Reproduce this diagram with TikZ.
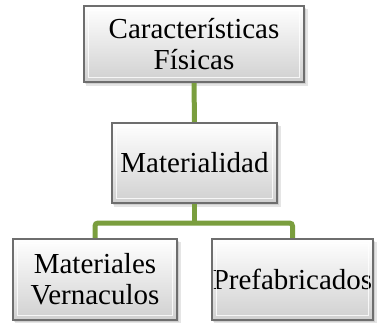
\documentclass[tikz,border=0pt]{standalone}
\usepackage{fontspec}
\setmainfont{Liberation Serif}
\definecolor{lgreen}{RGB}{122,158,62}
\definecolor{boxedge}{RGB}{110,110,110}
\definecolor{boxbot}{RGB}{208,208,208}
\begin{document}
\begin{tikzpicture}[x=1pt,y=-1pt,
  lbox/.style={draw=boxedge, line width=1.2pt, top color=white, bottom color=boxbot,
     minimum width=#1, align=center, inner sep=0pt,
     font=\fontsize{29}{32}\selectfont},
  conn/.style={draw=lgreen, line width=5pt, rounded corners=3pt}]
\useasboundingbox (0,0) rectangle (378,322);
% shadows
\foreach \xa/\ya/\xb/\yb in {84/6/304/82, 112/123/277/203, 13/239/177/320, 212/239/373/320}{
  \fill[black, opacity=0.10] (\xa+2,\ya+3) rectangle (\xb+4,\yb+4);
  \fill[black, opacity=0.10] (\xa+1,\ya+2) rectangle (\xb+2,\yb+2);
}
\coordinate (j) at (194.5,223);
\node[lbox=220pt, minimum height=76pt] (top) at (194,44) {Características\\[-1pt]Físicas};
\node[lbox=165pt, minimum height=80pt] (mid) at (194.5,163) {Materialidad};
\node[lbox=164pt, minimum height=81pt] (bl) at (95,279.5) {Materiales\\[-1pt]Vernaculos};
\node[lbox=161pt, minimum height=81pt] (br) at (292.5,279.5) {Prefabricados};
\draw[conn] (top.south) -- (mid.north);
\draw[conn] (mid.south) -- (j);
\draw[conn] (bl.north) |- (j) -| (br.north);
% bevel highlights
\foreach \n in {top,mid,bl,br}{
  \draw[white, line width=0.8pt, opacity=0.8] ([shift={(5,-5)}]\n.south west) rectangle ([shift={(-5,5)}]\n.north east);
  \draw[boxedge, line width=1.2pt] (\n.south west) rectangle (\n.north east);
}
\end{tikzpicture}
\end{document}
